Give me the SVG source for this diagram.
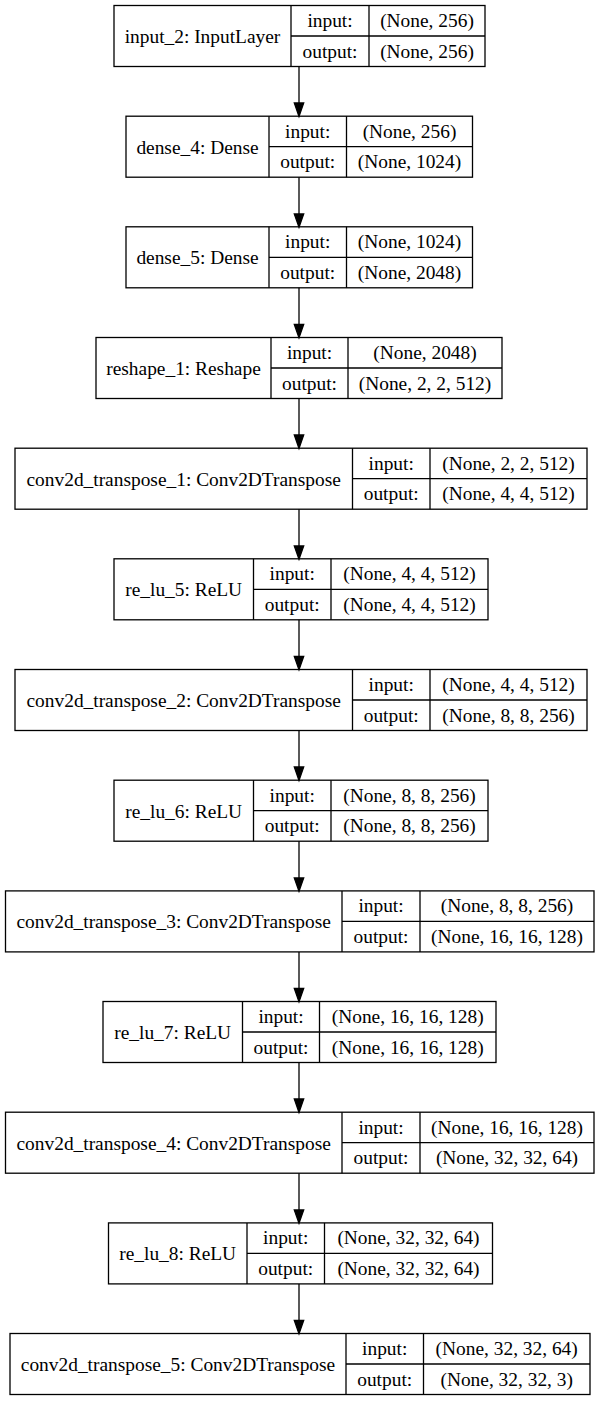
<svg xmlns="http://www.w3.org/2000/svg" width="599" height="1401" viewBox="0 0 599 1401">
<style>
rect.b{fill:none;stroke:#000;stroke-width:1.3}
line.d{stroke:#000;stroke-width:1.3}
text{font-family:"Liberation Serif","Times New Roman",serif;font-size:19.4px;fill:#000;text-anchor:middle}
.e line{stroke:#000;stroke-width:1.3}
.e polygon{fill:#000;stroke:#000;stroke-width:1.3}
</style>
<rect width="599" height="1401" fill="#fff"/>
<g id="connectors" class="e">
<line x1="299" y1="66.5" x2="299" y2="103"/><polygon points="294.3,103 303.7,103 299,116.5"/>
<line x1="299" y1="177.2" x2="299" y2="214"/><polygon points="294.3,214 303.7,214 299,227.2"/>
<line x1="299" y1="287.8" x2="299" y2="324.5"/><polygon points="294.3,324.5 303.7,324.5 299,337.8"/>
<line x1="299" y1="398.5" x2="299" y2="435"/><polygon points="294.3,435 303.7,435 299,448.5"/>
<line x1="299" y1="509.2" x2="299" y2="546"/><polygon points="294.3,546 303.7,546 299,559.2"/>
<line x1="299" y1="619.8" x2="299" y2="656.5"/><polygon points="294.3,656.5 303.7,656.5 299,669.8"/>
<line x1="299" y1="730.5" x2="299" y2="767"/><polygon points="294.3,767 303.7,767 299,780.5"/>
<line x1="299" y1="841.2" x2="299" y2="878"/><polygon points="294.3,878 303.7,878 299,891.2"/>
<line x1="299" y1="951.9" x2="299" y2="988.5"/><polygon points="294.3,988.5 303.7,988.5 299,1001.9"/>
<line x1="299" y1="1062.5" x2="299" y2="1099"/><polygon points="294.3,1099 303.7,1099 299,1112.5"/>
<line x1="299" y1="1173.2" x2="299" y2="1210"/><polygon points="294.3,1210 303.7,1210 299,1223.2"/>
<line x1="299" y1="1283.9" x2="299" y2="1320.5"/><polygon points="294.3,1320.5 303.7,1320.5 299,1333.9"/>
</g>
<g id="input_2">
<rect class="b" x="114" y="5.5" width="371" height="61"/>
<line class="d" x1="291" y1="5.5" x2="291" y2="66.5"/><line class="d" x1="369" y1="5.5" x2="369" y2="66.5"/><line class="d" x1="291" y1="36" x2="485" y2="36"/>
<text x="202.5" y="43">input_2: InputLayer</text>
<text x="330" y="27">input:</text><text x="330" y="57.5">output:</text>
<text x="427" y="27">(None, 256)</text><text x="427" y="57.5">(None, 256)</text>
</g>
<g id="dense_4">
<rect class="b" x="126" y="116.2" width="346.5" height="61"/>
<line class="d" x1="269" y1="116.2" x2="269" y2="177.2"/><line class="d" x1="346.5" y1="116.2" x2="346.5" y2="177.2"/><line class="d" x1="269" y1="146.7" x2="472.5" y2="146.7"/>
<text x="197.5" y="153.7">dense_4: Dense</text>
<text x="307.7" y="137.7">input:</text><text x="307.7" y="168.2">output:</text>
<text x="409.5" y="137.7">(None, 256)</text><text x="409.5" y="168.2">(None, 1024)</text>
</g>
<g id="dense_5">
<rect class="b" x="126" y="226.8" width="346.5" height="61"/>
<line class="d" x1="269" y1="226.8" x2="269" y2="287.8"/><line class="d" x1="346.5" y1="226.8" x2="346.5" y2="287.8"/><line class="d" x1="269" y1="257.3" x2="472.5" y2="257.3"/>
<text x="197.5" y="264.3">dense_5: Dense</text>
<text x="307.7" y="248.3">input:</text><text x="307.7" y="278.8">output:</text>
<text x="409.5" y="248.3">(None, 1024)</text><text x="409.5" y="278.8">(None, 2048)</text>
</g>
<g id="reshape_1">
<rect class="b" x="96" y="337.5" width="406" height="61"/>
<line class="d" x1="271" y1="337.5" x2="271" y2="398.5"/><line class="d" x1="348" y1="337.5" x2="348" y2="398.5"/><line class="d" x1="271" y1="368" x2="502" y2="368"/>
<text x="183.5" y="375">reshape_1: Reshape</text>
<text x="309.5" y="359">input:</text><text x="309.5" y="389.5">output:</text>
<text x="425" y="359">(None, 2048)</text><text x="425" y="389.5">(None, 2, 2, 512)</text>
</g>
<g id="conv2d_transpose_1">
<rect class="b" x="15" y="448.2" width="572" height="61"/>
<line class="d" x1="352.5" y1="448.2" x2="352.5" y2="509.2"/><line class="d" x1="430" y1="448.2" x2="430" y2="509.2"/><line class="d" x1="352.5" y1="478.7" x2="587" y2="478.7"/>
<text x="183.7" y="485.7">conv2d_transpose_1: Conv2DTranspose</text>
<text x="391.2" y="469.7">input:</text><text x="391.2" y="500.2">output:</text>
<text x="508.5" y="469.7">(None, 2, 2, 512)</text><text x="508.5" y="500.2">(None, 4, 4, 512)</text>
</g>
<g id="re_lu_5">
<rect class="b" x="114" y="558.8" width="374" height="61"/>
<line class="d" x1="253.5" y1="558.8" x2="253.5" y2="619.8"/><line class="d" x1="331" y1="558.8" x2="331" y2="619.8"/><line class="d" x1="253.5" y1="589.3" x2="488" y2="589.3"/>
<text x="183.7" y="596.3">re_lu_5: ReLU</text>
<text x="292.2" y="580.3">input:</text><text x="292.2" y="610.8">output:</text>
<text x="409.5" y="580.3">(None, 4, 4, 512)</text><text x="409.5" y="610.8">(None, 4, 4, 512)</text>
</g>
<g id="conv2d_transpose_2">
<rect class="b" x="15" y="669.5" width="572" height="61"/>
<line class="d" x1="352.5" y1="669.5" x2="352.5" y2="730.5"/><line class="d" x1="430" y1="669.5" x2="430" y2="730.5"/><line class="d" x1="352.5" y1="700" x2="587" y2="700"/>
<text x="183.7" y="707">conv2d_transpose_2: Conv2DTranspose</text>
<text x="391.2" y="691">input:</text><text x="391.2" y="721.5">output:</text>
<text x="508.5" y="691">(None, 4, 4, 512)</text><text x="508.5" y="721.5">(None, 8, 8, 256)</text>
</g>
<g id="re_lu_6">
<rect class="b" x="114" y="780.2" width="374" height="61"/>
<line class="d" x1="253.5" y1="780.2" x2="253.5" y2="841.2"/><line class="d" x1="331" y1="780.2" x2="331" y2="841.2"/><line class="d" x1="253.5" y1="810.7" x2="488" y2="810.7"/>
<text x="183.7" y="817.7">re_lu_6: ReLU</text>
<text x="292.2" y="801.7">input:</text><text x="292.2" y="832.2">output:</text>
<text x="409.5" y="801.7">(None, 8, 8, 256)</text><text x="409.5" y="832.2">(None, 8, 8, 256)</text>
</g>
<g id="conv2d_transpose_3">
<rect class="b" x="5.5" y="890.9" width="588.5" height="61"/>
<line class="d" x1="342" y1="890.9" x2="342" y2="951.9"/><line class="d" x1="420" y1="890.9" x2="420" y2="951.9"/><line class="d" x1="342" y1="921.4" x2="594" y2="921.4"/>
<text x="173.7" y="928.4">conv2d_transpose_3: Conv2DTranspose</text>
<text x="381" y="912.4">input:</text><text x="381" y="942.9">output:</text>
<text x="507" y="912.4">(None, 8, 8, 256)</text><text x="507" y="942.9">(None, 16, 16, 128)</text>
</g>
<g id="re_lu_7">
<rect class="b" x="103" y="1001.5" width="393" height="61"/>
<line class="d" x1="242.5" y1="1001.5" x2="242.5" y2="1062.5"/><line class="d" x1="319.5" y1="1001.5" x2="319.5" y2="1062.5"/><line class="d" x1="242.5" y1="1032" x2="496" y2="1032"/>
<text x="172.7" y="1039">re_lu_7: ReLU</text>
<text x="281" y="1023">input:</text><text x="281" y="1053.5">output:</text>
<text x="407.7" y="1023">(None, 16, 16, 128)</text><text x="407.7" y="1053.5">(None, 16, 16, 128)</text>
</g>
<g id="conv2d_transpose_4">
<rect class="b" x="5.5" y="1112.2" width="588.5" height="61"/>
<line class="d" x1="342" y1="1112.2" x2="342" y2="1173.2"/><line class="d" x1="420" y1="1112.2" x2="420" y2="1173.2"/><line class="d" x1="342" y1="1142.7" x2="594" y2="1142.7"/>
<text x="173.7" y="1149.7">conv2d_transpose_4: Conv2DTranspose</text>
<text x="381" y="1133.7">input:</text><text x="381" y="1164.2">output:</text>
<text x="507" y="1133.7">(None, 16, 16, 128)</text><text x="507" y="1164.2">(None, 32, 32, 64)</text>
</g>
<g id="re_lu_8">
<rect class="b" x="108.5" y="1222.9" width="384" height="61"/>
<line class="d" x1="247" y1="1222.9" x2="247" y2="1283.9"/><line class="d" x1="324.5" y1="1222.9" x2="324.5" y2="1283.9"/><line class="d" x1="247" y1="1253.4" x2="492.5" y2="1253.4"/>
<text x="177.7" y="1260.4">re_lu_8: ReLU</text>
<text x="285.7" y="1244.4">input:</text><text x="285.7" y="1274.9">output:</text>
<text x="408.5" y="1244.4">(None, 32, 32, 64)</text><text x="408.5" y="1274.9">(None, 32, 32, 64)</text>
</g>
<g id="conv2d_transpose_5">
<rect class="b" x="10" y="1333.5" width="580" height="61"/>
<line class="d" x1="346" y1="1333.5" x2="346" y2="1394.5"/><line class="d" x1="423.5" y1="1333.5" x2="423.5" y2="1394.5"/><line class="d" x1="346" y1="1364" x2="590" y2="1364"/>
<text x="178" y="1371">conv2d_transpose_5: Conv2DTranspose</text>
<text x="384.7" y="1355">input:</text><text x="384.7" y="1385.5">output:</text>
<text x="506.7" y="1355">(None, 32, 32, 64)</text><text x="506.7" y="1385.5">(None, 32, 32, 3)</text>
</g>
</svg>
